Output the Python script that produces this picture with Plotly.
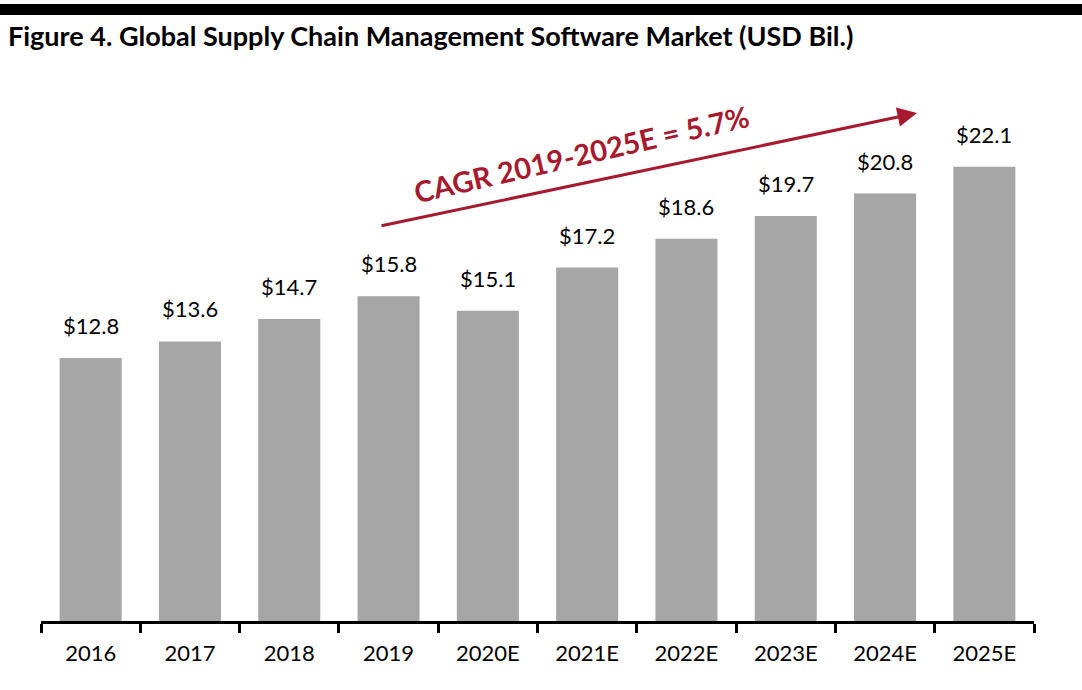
import plotly.graph_objects as go

categories = ["2016", "2017", "2018", "2019", "2020E", "2021E", "2022E", "2023E", "2024E", "2025E"]
values = [12.8, 13.6, 14.7, 15.8, 15.1, 17.2, 18.6, 19.7, 20.8, 22.1]
value_labels = ["$12.8", "$13.6", "$14.7", "$15.8", "$15.1", "$17.2", "$18.6", "$19.7", "$20.8", "$22.1"]
title_text = "Figure 4. Global Supply Chain Management Software Market (USD Bil.)"
cagr_text = "CAGR 2019-2025E = 5.7%"

FONT = "Lato, 'Open Sans', sans-serif"
RED = "#A6192E"

fig = go.Figure()
fig.add_trace(go.Bar(
    x=categories, y=values,
    marker=dict(color="#A6A6A6", line=dict(width=0)),
    hoverinfo="skip",
))

# value labels placed at each category's index on the category axis
for i, (v, t) in enumerate(zip(values, value_labels)):
    fig.add_annotation(x=i, y=v, text=t, showarrow=False, xref="x", yref="y",
                       yanchor="bottom", yshift=17,
                       font=dict(family=FONT, size=22, color="black"))

# CAGR arrow (tip in paper coords, tail offset in pixels)
fig.add_annotation(x=0.8822, y=0.9750, ax=-537, ay=113,
                   xref="paper", yref="paper", axref="pixel", ayref="pixel",
                   text="", showarrow=True, arrowhead=2, arrowsize=1.3,
                   arrowwidth=3, arrowcolor=RED, standoff=0, startstandoff=0)
fig.add_annotation(x=0.5448, y=1.0096, xref="paper", yref="paper",
                   text="<b>" + cagr_text + "</b>", showarrow=False, textangle=-13,
                   font=dict(family=FONT, size=29, color=RED))

# top black rule
fig.add_shape(type="rect", xref="paper", yref="paper",
              x0=-0.05, x1=1.06, y0=1.1630, y1=1.1843,
              fillcolor="black", line=dict(width=0), layer="above")

fig.update_layout(
    width=1082, height=690,
    margin=dict(l=41, r=48, t=100, b=69),
    paper_bgcolor="white", plot_bgcolor="white",
    showlegend=False,
    bargap=0.375,
    title=dict(text="<b>" + title_text + "</b>", x=0.0074, xanchor="left",
               xref="container", y=1 - 37 / 690, yref="container", yanchor="middle",
               font=dict(family=FONT, size=27, color="black")),
    xaxis=dict(type="category", range=[-0.5, 9.5], showline=True, linecolor="black", linewidth=3,
               ticks="outside", tickson="boundaries", ticklen=9, tickwidth=3,
               tickcolor="black", showgrid=False, zeroline=False,
               tickfont=dict(family=FONT, size=22, color="black"),
               ticklabelstandoff=11, tickangle=0),
    yaxis=dict(range=[0, 25.35], visible=False, showgrid=False, zeroline=False),
)

fig.write_html("out.html")
